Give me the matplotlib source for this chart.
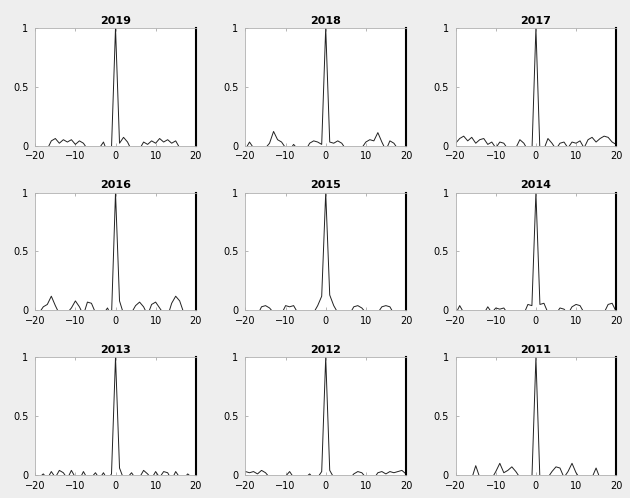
import numpy as np
import matplotlib
matplotlib.use('Agg')
import matplotlib.pyplot as plt

# lags shown on every panel
lags = list(range(-20, 21))

years = ['2019', '2018', '2017', '2016', '2015', '2014', '2013', '2012', '2011']

# autocorrelation values, lag -20 ... 20
acf_2019 = [-0.04, -0.02, -0.05, -0.03, 0.04, 0.06, 0.02, 0.05, 0.03, 0.05, 0.01, 0.04, 0.02, -0.03, -0.05, -0.04, -0.02, 0.03, -0.06, -0.02,
            1.0,
            0.02, 0.07, 0.03, -0.04, -0.06, -0.03, 0.03, 0.01, 0.04, 0.02, 0.06, 0.03, 0.05, 0.02, 0.04, -0.02, -0.05, -0.03, -0.04, -0.05]
acf_2018 = [-0.03, 0.03, -0.02, -0.04, -0.05, -0.02, 0.02, 0.12, 0.05, 0.03, -0.02, -0.04, 0.01, -0.03, -0.05, -0.04, 0.02, 0.04, 0.03, 0.01,
            1.0,
            0.03, 0.02, 0.04, 0.02, -0.03, -0.05, -0.04, -0.03, -0.02, 0.03, 0.05, 0.04, 0.11, 0.03, -0.04, 0.04, 0.02, -0.03, -0.05, -0.04]
acf_2017 = [0.02, 0.06, 0.08, 0.04, 0.07, 0.02, 0.05, 0.06, 0.01, 0.03, -0.02, 0.03, 0.02, -0.03, -0.05, -0.02, 0.05, 0.02, -0.04, -0.06,
            1.0,
            -0.05, -0.03, 0.06, 0.02, -0.03, 0.02, 0.03, -0.02, 0.03, 0.02, 0.04, -0.02, 0.05, 0.07, 0.03, 0.06, 0.08, 0.07, 0.03, 0.01]
acf_2016 = [-0.04, -0.02, 0.03, 0.05, 0.12, 0.04, -0.03, -0.05, -0.02, 0.02, 0.08, 0.03, -0.04, 0.07, 0.06, -0.02, -0.04, -0.03, 0.02, -0.05,
            1.0,
            0.08, -0.03, -0.05, -0.02, 0.04, 0.07, 0.03, -0.04, 0.05, 0.07, 0.02, -0.03, -0.05, 0.06, 0.12, 0.08, -0.02, -0.04, -0.03, -0.05]
acf_2015 = [-0.05, -0.03, -0.02, -0.04, 0.03, 0.04, 0.02, -0.02, -0.05, -0.03, 0.04, 0.03, 0.04, -0.02, -0.04, -0.05, -0.03, -0.02, 0.04, 0.12,
            1.0,
            0.13, 0.04, -0.02, -0.04, -0.05, -0.03, 0.03, 0.04, 0.02, -0.02, -0.04, -0.05, -0.02, 0.03, 0.04, 0.03, -0.03, -0.05, -0.04, -0.05]
acf_2014 = [-0.03, 0.04, -0.02, -0.04, -0.05, -0.03, -0.02, -0.03, 0.03, -0.02, 0.02, 0.01, 0.02, -0.03, -0.05, -0.04, -0.02, -0.03, 0.05, 0.04,
            1.0,
            0.05, 0.06, -0.02, -0.04, -0.03, 0.02, 0.01, -0.03, 0.03, 0.05, 0.04, -0.02, -0.04, -0.05, -0.03, -0.04, -0.02, 0.05, 0.06, -0.01]
acf_2013 = [-0.03, -0.02, 0.01, -0.03, 0.03, -0.02, 0.04, 0.02, -0.03, 0.04, -0.02, -0.04, 0.03, -0.03, -0.02, 0.02, -0.03, 0.02, -0.04, 0.01,
            1.0,
            0.06, -0.03, -0.02, 0.02, -0.03, -0.02, 0.04, 0.01, -0.03, 0.03, -0.02, 0.03, 0.02, -0.04, 0.03, -0.02, -0.03, 0.01, -0.02, -0.03]
acf_2012 = [0.03, 0.02, 0.03, 0.01, 0.04, 0.02, -0.02, -0.04, -0.03, -0.02, -0.01, 0.03, -0.02, -0.04, -0.03, -0.02, 0.01, -0.03, -0.02, 0.03,
            1.0,
            0.04, -0.02, -0.04, -0.03, -0.02, -0.03, 0.01, 0.03, 0.02, -0.02, -0.04, -0.03, 0.02, 0.03, 0.01, 0.03, 0.02, 0.03, 0.04, 0.01]
acf_2011 = [-0.04, -0.05, -0.03, -0.02, -0.03, 0.08, -0.02, -0.04, -0.05, -0.03, 0.03, 0.10, 0.02, 0.04, 0.07, 0.03, -0.02, -0.04, -0.05, -0.03,
            1.0,
            -0.04, -0.03, -0.02, 0.03, 0.07, 0.06, -0.02, 0.03, 0.10, 0.02, -0.03, -0.05, -0.04, -0.02, 0.06, -0.03, -0.05, -0.04, -0.03, -0.05]

series = [acf_2019, acf_2018, acf_2017, acf_2016, acf_2015, acf_2014, acf_2013, acf_2012, acf_2011]

xticks = [-20, -10, 0, 10, 20]
yticks = [0, 0.5, 1]

fig, axes = plt.subplots(3, 3, figsize=(6.3, 4.98), dpi=100, facecolor='#eeeeee')
fig.subplots_adjust(left=0.056, right=0.978, top=0.944, bottom=0.046, wspace=0.31, hspace=0.40)

for ax, year, vals in zip(axes.flat, years, series):
    ax.set_facecolor('white')
    ax.plot(lags, vals, color='#222222', lw=0.7)
    ax.set_xlim(-20, 20)
    ax.set_ylim(0, 1)
    ax.set_xticks(xticks)
    ax.set_yticks(yticks)
    ax.set_yticklabels(['0', '0.5', '1'])
    ax.set_title(year, fontsize=8, fontweight='bold', pad=3)
    ax.tick_params(direction='in', length=2, width=0.5, labelsize=7, top=True,
                   color='#999999')
    ax.tick_params(axis='x', pad=4)
    ax.tick_params(axis='y', pad=5)
    for side in ['left', 'top', 'bottom']:
        ax.spines[side].set_color('#b0b0b0')
        ax.spines[side].set_linewidth(0.6)
    ax.spines['right'].set_color('black')
    ax.spines['right'].set_linewidth(1.5)

fig.savefig('out.png', dpi=100, facecolor=fig.get_facecolor())
